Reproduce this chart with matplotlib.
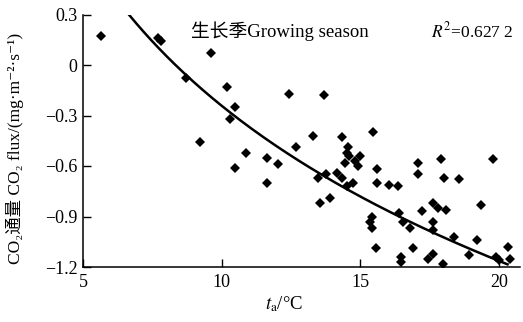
import numpy as np
import matplotlib
matplotlib.use('Agg')
import matplotlib.pyplot as plt

# Data: air temperature (C) vs CO2 flux
ta = [5.65, 7.7, 7.8, 9.6, 8.7, 10.2, 10.48, 10.3, 9.2, 10.88, 10.48,
      11.63, 12.03, 11.63, 12.43, 13.69, 13.29, 12.68, 14.34, 15.45,
      14.55, 14.6, 15.0, 14.8, 14.45, 14.5, 14.9, 13.47, 13.76, 14.16,
      14.34, 14.73, 14.5, 13.54, 13.9, 15.6, 15.6, 16.03, 16.36, 17.08,
      17.08, 17.9, 18.0, 18.55, 19.78, 19.35, 17.6, 18.09, 17.22, 17.8,
      15.42, 15.35, 15.42, 16.4, 16.55, 16.8, 17.6, 17.6, 18.37, 19.2,
      15.56, 16.9, 17.6, 17.44, 16.46, 16.46, 17.98, 18.9, 19.9, 20.32,
      20.4, 20.0]
flux = [0.17, 0.16, 0.14, 0.07, -0.08, -0.13, -0.25, -0.32, -0.46, -0.52, -0.61,
        -0.55, -0.59, -0.70, -0.17, -0.18, -0.42, -0.49, -0.43, -0.40,
        -0.49, -0.54, -0.54, -0.57, -0.58, -0.52, -0.60, -0.67, -0.65, -0.64,
        -0.67, -0.70, -0.72, -0.82, -0.79, -0.62, -0.70, -0.71, -0.72, -0.58,
        -0.65, -0.56, -0.67, -0.68, -0.56, -0.83, -0.82, -0.86, -0.87, -0.85,
        -0.90, -0.93, -0.97, -0.88, -0.93, -0.97, -0.93, -0.98, -1.02, -1.04,
        -1.09, -1.09, -1.12, -1.15, -1.14, -1.17, -1.18, -1.13, -1.14, -1.08,
        -1.15, -1.16]

# fitted curve y = a + b*ln(x)
fit_a = 2.82
fit_b = -1.33
fit_x0, fit_x1 = 6.64, 20.3

xticks = [5, 10, 15, 20]
yticks = [0.3, 0, -0.3, -0.6, -0.9, -1.2]
ytick_labels = ['0.3', '0', '\u22120.3', '\u22120.6', '\u22120.9', '\u22121.2']

serif = ['Liberation Serif', 'Noto Sans CJK SC', 'DejaVu Serif']
plt.rcParams['font.family'] = serif
plt.rcParams['mathtext.fontset'] = 'stix'
plt.rcParams['font.size'] = 12

fig = plt.figure(figsize=(5.23, 3.22), dpi=100)
ax = fig.add_axes([83/523, 1 - 267/322, (520 - 83)/523, (267 - 14.5)/322])

ax.plot(ta, flux, 'D', color='black', ms=5.5, mew=0)
xf = np.linspace(fit_x0, fit_x1, 200)
ax.plot(xf, fit_a + fit_b*np.log(xf), color='black', lw=1.8)

ax.set_xlim(5, 20.75)
ax.set_ylim(-1.2, 0.3)
ax.set_xticks(xticks)
ax.set_yticks(yticks)
ax.set_yticklabels(ytick_labels)
ax.tick_params(direction='in', length=6, width=1, labelsize=13)
ax.tick_params(axis='x', pad=5)
ax.tick_params(axis='y', pad=4)
for s in ['top', 'right']:
    ax.spines[s].set_visible(False)
for s in ['left', 'bottom']:
    ax.spines[s].set_linewidth(1.1)

ax.set_ylabel('CO\u2082通量 CO\u2082 flux/(mg\u00b7m\u207b\u00b2\u00b7s\u207b\u00b9)', fontsize=12.5)
ax.yaxis.set_label_coords(-0.135, 0.47)
ax.set_xlabel('$t_\\mathrm{a}$/\u00b0C', fontsize=13.5)
ax.xaxis.set_label_coords(0.46, -0.11)

ax.text(8.9, 0.2, '生长季Growing season', fontsize=13.5, va='center')
ax.text(17.55, 0.2, r'$R^2$=0.627 2', fontsize=12.5, va='center')

fig.savefig('out.png', dpi=100)
